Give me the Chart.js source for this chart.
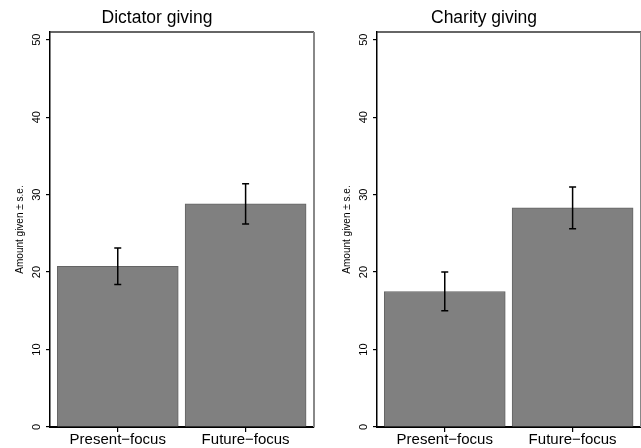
<!DOCTYPE html>
<html>
<head>
<meta charset="utf-8">
<script src="https://cdn.jsdelivr.net/npm/chart.js@4.4.1/dist/chart.umd.min.js"></script>
<style>
    body { margin: 0; background: #fff; }
    #wrap { position: relative; width: 641px; height: 448px; overflow: hidden; }
    #leftChart { position: absolute; left: 0; top: 0; }
    #rightChart { position: absolute; left: 327px; top: 0; }
</style>
</head>
<body>
<div id="wrap">
    <canvas id="leftChart" width="327" height="448"></canvas>
    <canvas id="rightChart" width="314" height="448"></canvas>
</div>
<script>
const categories = ["Present\u2212focus", "Future\u2212focus"];
const yTicks = [0, 10, 20, 30, 40, 50];

const dictatorMean = [20.75, 28.8];
const dictatorSe = [2.35, 2.6];

const charityMean = [17.5, 28.3];
const charitySe = [2.5, 2.7];

const FONT = "'Liberation Sans', Arial, Helvetica, sans-serif";

// error bars (mean ± s.e.) drawn from the y scale
const errorBars = {
    id: "errorBars",
    afterDatasetsDraw(chart, args, opts) {
        const ctx = chart.ctx;
        const yScale = chart.scales.y;
        const meta = chart.getDatasetMeta(0);
        ctx.save();
        ctx.strokeStyle = "#000";
        ctx.lineWidth = 1.5;
        meta.data.forEach((bar, i) => {
            const x = bar.x;
            const hi = yScale.getPixelForValue(opts.mean[i] + opts.se[i]);
            const lo = yScale.getPixelForValue(opts.mean[i] - opts.se[i]);
            ctx.beginPath();
            ctx.moveTo(x, hi); ctx.lineTo(x, lo);
            ctx.moveTo(x - 3.5, hi); ctx.lineTo(x + 3.5, hi);
            ctx.moveTo(x - 3.5, lo); ctx.lineTo(x + 3.5, lo);
            ctx.stroke();
        });
        ctx.restore();
    }
};

// top and right edges of the plot box
const plotBox = {
    id: "plotBox",
    afterDraw(chart) {
        const { ctx, chartArea } = chart;
        ctx.save();
        ctx.strokeStyle = "#333";
        ctx.lineWidth = 1.5;
        ctx.beginPath();
        ctx.moveTo(chartArea.left, chartArea.top);
        ctx.lineTo(chartArea.right, chartArea.top);
        ctx.stroke();
        ctx.strokeStyle = "#888";
        ctx.lineWidth = 2;
        ctx.beginPath();
        ctx.moveTo(chartArea.right, chartArea.top);
        ctx.lineTo(chartArea.right, chartArea.bottom);
        ctx.stroke();
        ctx.restore();
    }
};

function makeChart(id, title, mean, se, padRight) {
    const ctx = document.getElementById(id).getContext("2d");
    return new Chart(ctx, {
        type: "bar",
        data: {
            datasets: [
                {
                    data: mean.map((v, i) => ({ x: i, y: v })),
                    backgroundColor: "rgb(128, 128, 128)",
                    borderColor: "rgb(100, 100, 100)",
                    borderWidth: 1,
                    barThickness: 121,
                },
            ],
        },
        options: {
            responsive: false,
            animation: false,
            layout: { padding: { left: 0, right: padRight, top: 0, bottom: 0 } },
            plugins: {
                legend: { display: false },
                tooltip: { enabled: false },
                title: {
                    display: true,
                    text: title,
                    color: "#000",
                    font: { family: FONT, size: 17.5, weight: "normal", lineHeight: 1.2 },
                    padding: { top: 8, bottom: 3 },
                },
                errorBars: { mean: mean, se: se },
            },
            scales: {
                x: {
                    type: "linear",
                    offset: false,
                    min: -0.53,
                    max: 1.535,
                    afterBuildTicks: (s) => { s.ticks = categories.map((c, i) => ({ value: i })); },
                    afterFit: (s) => { s.height = 21; },
                    grid: { display: true, offset: false, drawOnChartArea: false, drawTicks: true, tickLength: 5, color: "#000", lineWidth: 1.2 },
                    border: { display: true, color: "#000", width: 2 },
                    ticks: {
                        callback: (v) => categories[v],
                        color: "#000",
                        padding: 0.5,
                        maxRotation: 0,
                        autoSkip: false,
                        font: { family: FONT, size: 15, lineHeight: 1 },
                    },
                },
                y: {
                    min: 0,
                    max: 51,
                    afterBuildTicks: (s) => { s.ticks = yTicks.map(v => ({ value: v })); },
                    afterFit: (s) => { s.width = 50; },
                    grid: { display: true, drawOnChartArea: false, drawTicks: true, tickLength: 4, color: "#000", lineWidth: 1.2 },
                    border: { display: true, color: "#000", width: 1.5 },
                    ticks: {
                        color: "#000",
                        minRotation: 90,
                        maxRotation: 90,
                        crossAlign: "center",
                        padding: 3,
                        font: { family: FONT, size: 11 },
                    },
                    title: {
                        display: true,
                        text: "Amount given \u00b1 s.e.",
                        color: "#000",
                        padding: { top: 14, bottom: 0 },
                        font: { family: FONT, size: 10, lineHeight: 1.2 },
                    },
                },
            },
        },
        plugins: [errorBars, plotBox],
    });
}

document.addEventListener("DOMContentLoaded", () => {
    makeChart("leftChart", "Dictator giving", dictatorMean, dictatorSe, 13);
    makeChart("rightChart", "Charity giving", charityMean, charitySe, 0);
});
</script>
</body>
</html>
